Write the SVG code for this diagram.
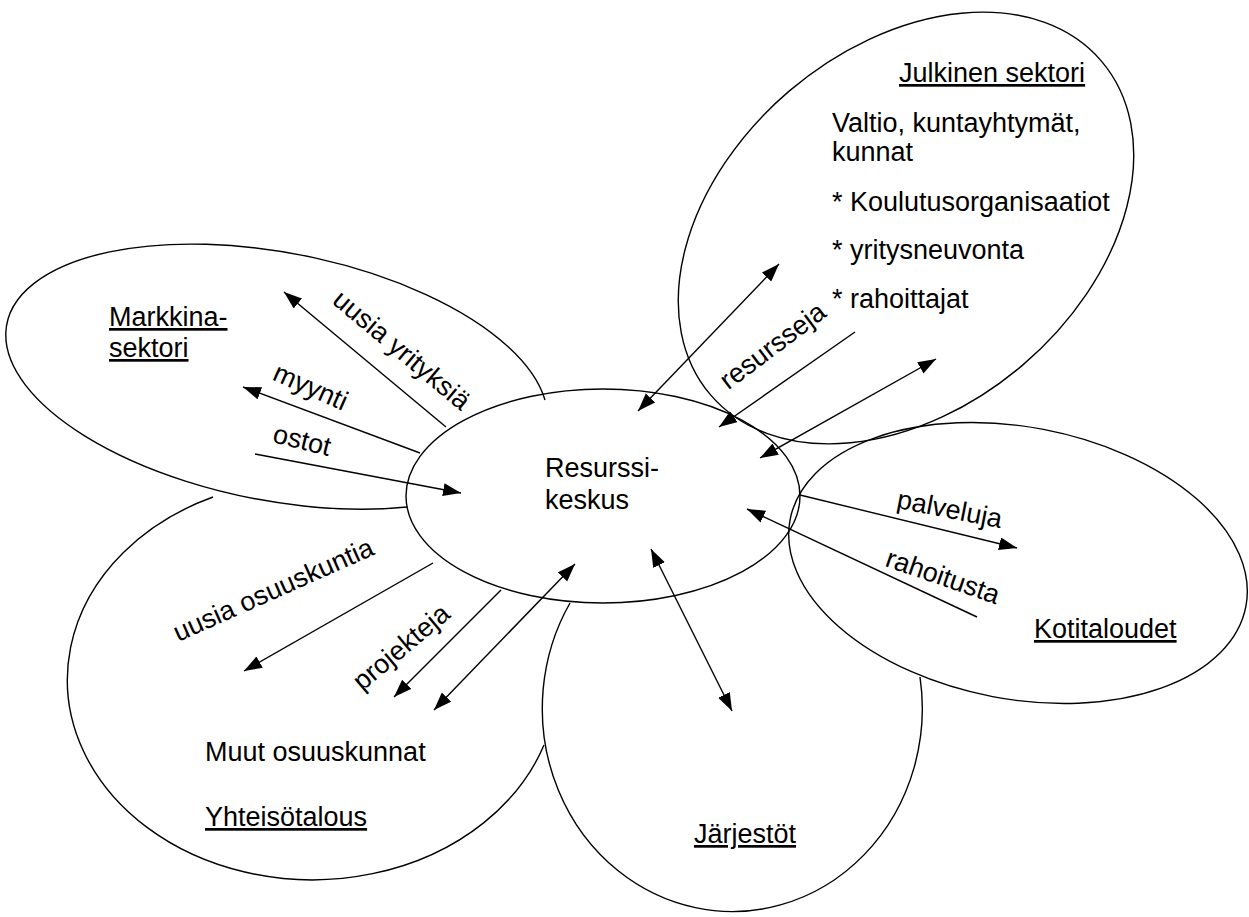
<svg xmlns="http://www.w3.org/2000/svg" width="1249" height="917" viewBox="0 0 1249 917">
<style>
.shape{fill:none;stroke:#000;stroke-width:1.4}
.conn{fill:none;stroke:#000;stroke-width:1.4;marker-end:url(#arr)}
.dbl{marker-start:url(#arr)}
.t{font-family:"Liberation Sans",Arial,sans-serif;font-size:27px;fill:#000}
.u{text-decoration:underline}
.lbl{text-anchor:middle}
</style>
<defs>
<marker id="arr" markerUnits="userSpaceOnUse" markerWidth="19" markerHeight="14" refX="18" refY="6.5" orient="auto-start-reverse">
<path d="M0,0 L18,6.5 L0,13 z" fill="#000"/>
</marker>
</defs>
<rect width="1249" height="917" fill="#fff"/>
<g id="markkinasektori">
<path class="shape" d="M545,400 A275,124 11 1 0 407,507"/>
<text class="t u" x="109" y="326">Markkina-</text>
<text class="t u" x="109" y="357">sektori</text>
</g>
<g id="julkinen-sektori">
<ellipse class="shape" cx="906" cy="228" rx="257" ry="180" transform="rotate(-40.5 906 228)"/>
<text class="t u" x="899" y="82">Julkinen sektori</text>
<text class="t" x="832" y="132">Valtio, kuntayhtymät,</text>
<text class="t" x="832" y="161">kunnat</text>
<text class="t" x="832" y="211">* Koulutusorganisaatiot</text>
<text class="t" x="832" y="259">* yritysneuvonta</text>
<text class="t" x="832" y="308">* rahoittajat</text>
</g>
<g id="kotitaloudet">
<ellipse class="shape" cx="1018" cy="563" rx="232" ry="136" transform="rotate(10.8 1018 563)"/>
<text class="t u" x="1034" y="638">Kotitaloudet</text>
</g>
<g id="jarjestot">
<path class="shape" d="M570,603 A190,203 0 1 0 920,677"/>
<text class="t u" x="694" y="843">Järjestöt</text>
</g>
<g id="yhteisotalous">
<path class="shape" d="M213,497 A245,200 0 1 0 544,745"/>
<text class="t" x="205" y="761">Muut osuuskunnat</text>
<text class="t u" x="205" y="826">Yhteisötalous</text>
</g>
<g id="resurssikeskus">
<ellipse class="shape" cx="603" cy="496" rx="197" ry="107"/>
<text class="t" x="545" y="477">Resurssi-</text>
<text class="t" x="545" y="509">keskus</text>
</g>
<g id="connectors">
<path class="conn" d="M446,427 L284,292"/>
<path class="conn" d="M420,453 L243,387"/>
<path class="conn" d="M255,454 L461,493"/>
<path class="conn dbl" d="M638,411 L779,264"/>
<path class="conn" d="M855,332 L719,427"/>
<path class="conn dbl" d="M760,458 L936,359"/>
<path class="conn" d="M800,495 L1017,548"/>
<path class="conn" d="M977,617 L747,509"/>
<path class="conn dbl" d="M651,549 L732,711"/>
<path class="conn" d="M433,563 L244,671"/>
<path class="conn" d="M501,590 L394,697"/>
<path class="conn dbl" d="M575,564 L434,710"/>
<g id="connector-labels">
<text class="t lbl" transform="translate(396,357) rotate(40)">uusia yrityksiä</text>
<text class="t lbl" transform="translate(307,395) rotate(24)">myynti</text>
<text class="t lbl" transform="translate(300,449) rotate(14)">ostot</text>
<text class="t lbl" transform="translate(778,353) rotate(-37)">resursseja</text>
<text class="t lbl" transform="translate(948,518) rotate(11)">palveluja</text>
<text class="t lbl" transform="translate(940,585) rotate(19)">rahoitusta</text>
<text class="t lbl" transform="translate(277,598) rotate(-24)">uusia osuuskuntia</text>
<text class="t lbl" transform="translate(407,654) rotate(-40)">projekteja</text>
</g>
</g>
</svg>
